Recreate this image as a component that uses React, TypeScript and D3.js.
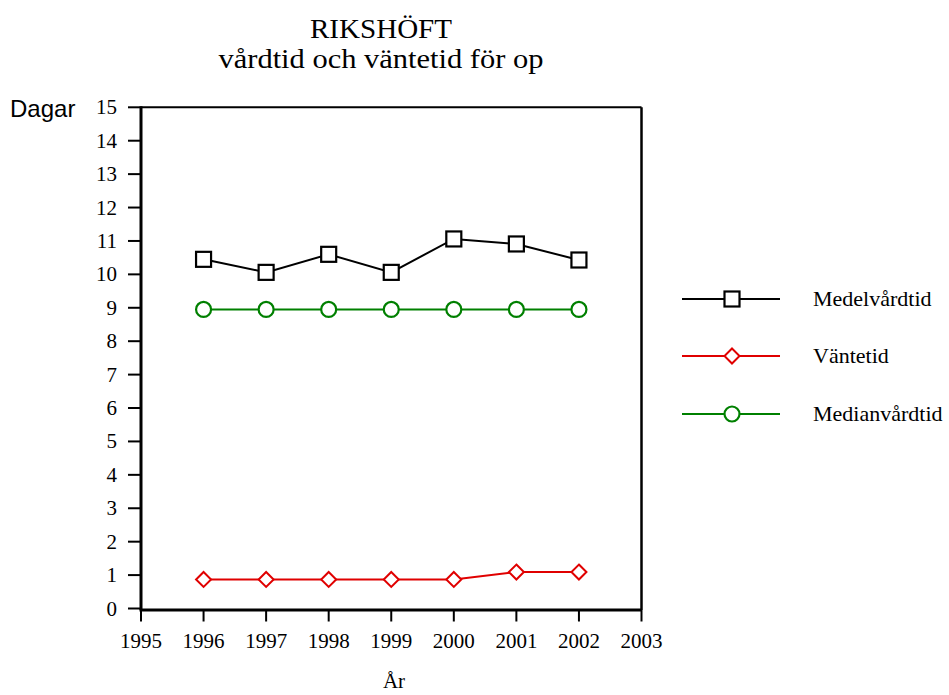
import React from "react";
import * as d3 from "d3";

const years = [1996, 1997, 1998, 1999, 2000, 2001, 2002];
const medelvardtid = [10.45, 10.06, 10.6, 10.06, 11.06, 10.91, 10.43];
const vantetid = [0.87, 0.87, 0.87, 0.87, 0.87, 1.09, 1.09];
const medianvardtid = [8.95, 8.95, 8.95, 8.95, 8.95, 8.95, 8.95];
const xTicks = [1995, 1996, 1997, 1998, 1999, 2000, 2001, 2002, 2003];
const yTicks = d3.range(0, 16);
const seriesNames = ["Medelvårdtid", "Väntetid", "Medianvårdtid"];

const W = 949, H = 695;
const L = 141, R = 641.5, T = 107.3, B = 608.5;
const serif = "'Liberation Serif', 'Times New Roman', serif";

function Marker({ type, x, y, color }: { type: string; x: number; y: number; color: string }) {
  if (type === "square") return <rect x={x - 7.5} y={y - 7.5} width={15} height={15} fill="#fff" stroke={color} strokeWidth={2.2} />;
  if (type === "diamond") return <path d={`M${x},${y - 7.5}L${x + 7.5},${y}L${x},${y + 7.5}L${x - 7.5},${y}Z`} fill="#fff" stroke={color} strokeWidth={2} />;
  return <circle cx={x} cy={y} r={7.5} fill="#fff" stroke={color} strokeWidth={2.2} />;
}

export default function App() {
  const x = d3.scaleLinear().domain([1995, 2003]).range([L, R]);
  const y = d3.scaleLinear().domain([0, 15]).range([B, T]);
  const line = d3.line<number>().x((_, i) => x(years[i])).y((d) => y(d));
  const series = [
    { name: seriesNames[0], data: medelvardtid, color: "#000", marker: "square" },
    { name: seriesNames[1], data: vantetid, color: "#e00000", marker: "diamond" },
    { name: seriesNames[2], data: medianvardtid, color: "#008000", marker: "circle" },
  ];
  const legendY = [299, 356, 414];
  return (
    <svg width={W} height={H} style={{ position: "absolute", left: 0, top: 0 }}>
      <rect width={W} height={H} fill="#fff" />
      <text x={381} y={38} textAnchor="middle" fontFamily={serif} fontSize={28} textLength={142} lengthAdjust="spacingAndGlyphs">RIKSHÖFT</text>
      <text x={381} y={68} textAnchor="middle" fontFamily={serif} fontSize={28} textLength={325} lengthAdjust="spacingAndGlyphs">vårdtid och väntetid för op</text>
      <text x={10} y={117} fontFamily="'Liberation Sans', Arial, sans-serif" fontSize={24}>Dagar</text>
      {/* frame */}
      <line x1={L} y1={T} x2={R} y2={T} stroke="#000" strokeWidth={2} />
      <line x1={R} y1={T} x2={R} y2={B + 1.5} stroke="#000" strokeWidth={2.5} />
      <line x1={L} y1={T - 1} x2={L} y2={B + 1.5} stroke="#000" strokeWidth={3} />
      <line x1={L - 1.5} y1={B + 1.5} x2={R} y2={B + 1.5} stroke="#000" strokeWidth={3} />
      {yTicks.map((t) => (
        <g key={t}>
          <line x1={L - 13} x2={L} y1={y(t)} y2={y(t)} stroke="#000" strokeWidth={2} />
          <text x={117} y={y(t) + 7} textAnchor="end" fontFamily={serif} fontSize={21}>{t}</text>
        </g>
      ))}
      {xTicks.map((t) => (
        <g key={t}>
          <line x1={x(t)} x2={x(t)} y1={B + 1.5} y2={B + 13} stroke="#000" strokeWidth={2} />
          <text x={x(t)} y={648} textAnchor="middle" fontFamily={serif} fontSize={21}>{t}</text>
        </g>
      ))}
      <text x={394} y={688} textAnchor="middle" fontFamily={serif} fontSize={21}>År</text>
      {series.map((s) => (
        <g key={s.name}>
          <path d={line(s.data) || ""} fill="none" stroke={s.color} strokeWidth={2} />
          {s.data.map((v, i) => (
            <Marker key={i} type={s.marker} x={x(years[i])} y={y(v)} color={s.color} />
          ))}
        </g>
      ))}
      {series.map((s, i) => (
        <g key={"lg" + s.name}>
          <line x1={682} x2={780} y1={legendY[i]} y2={legendY[i]} stroke={s.color} strokeWidth={2} />
          <Marker type={s.marker} x={732} y={legendY[i]} color={s.color} />
          <text x={813} y={legendY[i] + 7} fontFamily={serif} fontSize={22}>{s.name}</text>
        </g>
      ))}
    </svg>
  );
}
